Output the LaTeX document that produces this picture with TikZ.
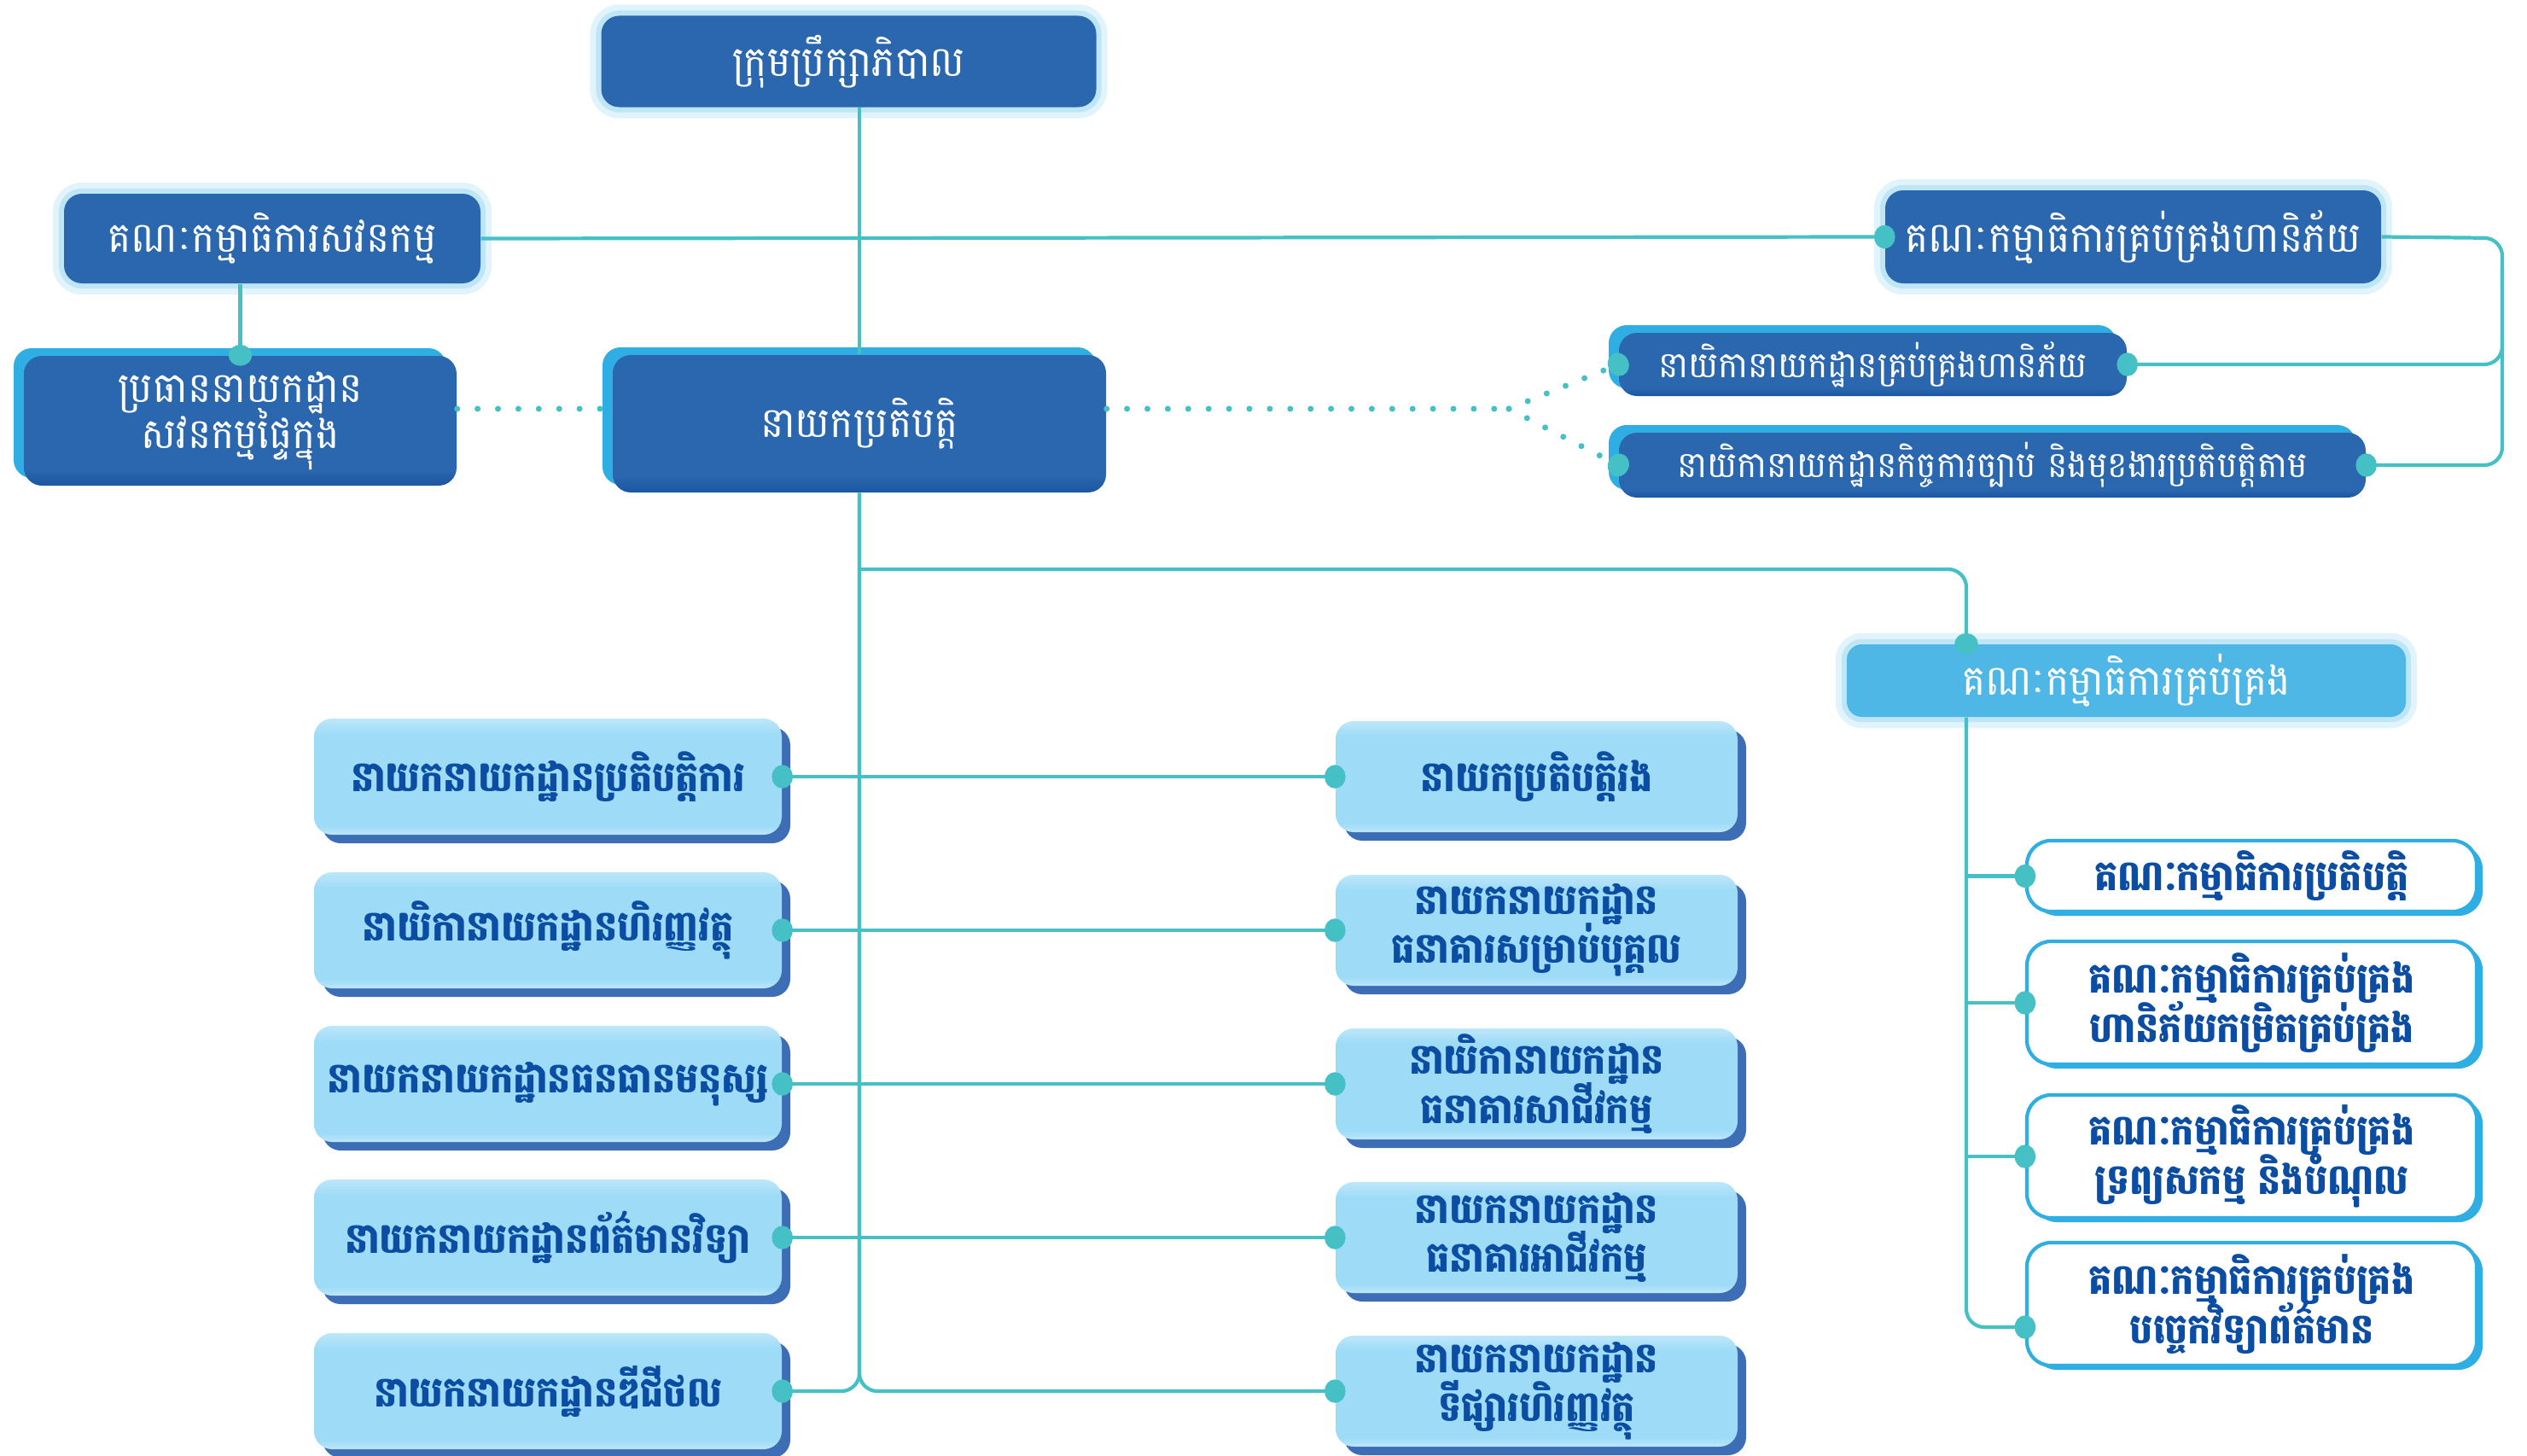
\documentclass[tikz,border=0pt]{standalone}
\usepackage{fontspec}
\newfontfamily\khmer[Script=Khmer, FakeStretch=0.93, BoldFeatures={FakeStretch=0.87}]{Battambang}
\usepackage{tikz}
\usetikzlibrary{positioning,shadows,arrows.meta}
\setlength{\lineskiplimit}{-10pt}

\definecolor{boxblue}{HTML}{2A67AE}
\definecolor{boxlow}{HTML}{1B55A3}
\definecolor{backblue}{HTML}{2FAEE3}
\definecolor{glowblue}{HTML}{BFE6F7}
\definecolor{linkteal}{HTML}{45C1C6}
\definecolor{deptfill}{HTML}{9DDBF7}
\definecolor{depttop}{HTML}{BDE7FA}
\definecolor{deptshade}{HTML}{3C6DB5}
\definecolor{depttext}{HTML}{0A4DA2}
\definecolor{mgmtfill}{HTML}{4EB7E5}

\pgfdeclareverticalshading{deptshading}{100bp}{color(0bp)=(depttop); color(25bp)=(depttop);
  color(29bp)=(deptfill); color(68bp)=(deptfill); color(75bp)=(depttop); color(100bp)=(depttop)}
\pgfdeclareverticalshading{chiefshading}{100bp}{color(0bp)=(boxlow); color(25bp)=(boxlow);
  color(31bp)=(boxblue); color(100bp)=(boxblue)}

\tikzset{node distance=1.8cm, auto,
  every node/.style={font=\khmer\fontsize{14}{15.5}\selectfont, align=center, inner sep=0pt},
  glow/.style={preaction={draw=glowblue!45, line width=7.5pt},
               preaction={draw=glowblue, line width=3.5pt}},
  head/.style={glow, rounded corners=6pt, fill=boxblue, text=white},
  chief/.style={rounded corners=6pt, shading=chiefshading, text=white,
                drop shadow={shadow xshift=-0.12cm, shadow yshift=0.09cm, fill=backblue, opacity=1}},
  small/.style={font=\khmer\fontsize{12}{14}\selectfont},
  mgmt/.style={glow, rounded corners=5pt, fill=mgmtfill, text=white},
  dept/.style={rounded corners=6pt, shading=deptshading, text=depttext,
               font=\khmer\bfseries\fontsize{14}{16.3}\selectfont,
               minimum width=5.48cm, minimum height=1.36cm,
               drop shadow={shadow xshift=0.1cm, shadow yshift=-0.1cm, fill=deptshade, opacity=1}},
  cmte/.style={rounded corners=8pt, fill=white, draw=backblue, line width=1.2pt, text=depttext,
               font=\khmer\bfseries\fontsize{14}{16.3}\selectfont, minimum width=5.27cm,
               drop shadow={shadow xshift=0.07cm, shadow yshift=-0.05cm, fill=backblue, opacity=1}},
  link/.style={draw=linkteal, line width=1.2pt},
  dotlink/.style={draw=linkteal, line width=2pt, line cap=round, dash pattern=on 0pt off 6.8pt},
  bead/.tip={Circle[length=7pt, width=7.8pt, fill=linkteal]},
  tipend/.style={-bead, shorten >=-3.5pt},
  tipstart/.style={bead-, shorten <=-3.5pt},
  tipboth/.style={bead-bead, shorten <=-3.5pt, shorten >=-3.5pt}
}

\begin{document}
\begin{tikzpicture}

             \useasboundingbox (0,0) rectangle (29.61,-17.06);

             \node (Board) [head, minimum width=5.8cm, minimum height=1.07cm] at (9.945,-0.72) {ក្រុមប្រឹក្សាភិបាល};
             \node (AuditC) [head, minimum width=4.88cm, minimum height=1.05cm] at (3.19,-2.795) {គណៈកម្មាធិការសវនកម្ម};
             \node (RiskC) [head, minimum width=5.81cm, minimum height=1.09cm] at (24.995,-2.775) {គណៈកម្មាធិការគ្រប់គ្រងហានិភ័យ};

             \node (IA) [chief, minimum width=5.07cm, minimum height=1.52cm] at (2.815,-4.93) {ប្រធាននាយកដ្ឋាន\\សវនកម្មផ្ទៃក្នុង};
             \node (CEO) [chief, minimum width=5.78cm, minimum height=1.61cm] at (10.07,-4.965) {នាយកប្រតិបត្តិ};
             \node (RiskD) [chief, small, minimum width=5.95cm, minimum height=0.74cm] at (21.945,-4.27) {នាយិកានាយកដ្ឋានគ្រប់គ្រងហានិភ័យ};
             \node (Comp) [chief, small, minimum width=8.75cm, minimum height=0.76cm] at (23.345,-5.45) {នាយិកានាយកដ្ឋានកិច្ចការច្បាប់ និងមុខងារប្រតិបត្តិតាម};

             \node (Mgmt) [mgmt, minimum width=6.55cm, minimum height=0.85cm] at (24.915,-7.975) {គណៈកម្មាធិការគ្រប់គ្រង};

             \node (L1) [dept] at (6.42,-9.1) {នាយកនាយកដ្ឋានប្រតិបត្តិការ};
             \node (L2) [dept, below of=L1] {នាយិកានាយកដ្ឋានហិរញ្ញវត្ថុ};
             \node (L3) [dept, below of=L2] {នាយកនាយកដ្ឋានធនធានមនុស្ស};
             \node (L4) [dept, below of=L3] {នាយកនាយកដ្ឋានព័ត៌មានវិទ្យា};
             \node (L5) [dept, below of=L4] {នាយកនាយកដ្ឋានឌីជីថល};

             \node (M1) [dept, minimum width=4.71cm, minimum height=1.3cm] at (18.005,-9.1) {នាយកប្រតិបត្តិរង};
             \node (M2) [dept, minimum width=4.71cm, minimum height=1.3cm, below of=M1] {នាយកនាយកដ្ឋាន\\ធនាគារសម្រាប់បុគ្គល};
             \node (M3) [dept, minimum width=4.71cm, minimum height=1.3cm, below of=M2] {នាយិកានាយកដ្ឋាន\\ធនាគារសាជីវកម្ម};
             \node (M4) [dept, minimum width=4.71cm, minimum height=1.3cm, below of=M3] {នាយកនាយកដ្ឋាន\\ធនាគារអាជីវកម្ម};
             \node (M5) [dept, minimum width=4.71cm, minimum height=1.3cm, below of=M4] {នាយកនាយកដ្ឋាន\\ទីផ្សារហិរញ្ញវត្ថុ};

             \node (R1) [cmte, minimum height=0.83cm] at (26.385,-10.265) {គណៈកម្មាធិការប្រតិបត្តិ};
             \node (R2) [cmte, minimum height=1.44cm] at (26.385,-11.75) {គណៈកម្មាធិការគ្រប់គ្រង\\ហានិភ័យកម្រិតគ្រប់គ្រង};
             \node (R3) [cmte, minimum height=1.44cm] at (26.385,-13.55) {គណៈកម្មាធិការគ្រប់គ្រង\\ទ្រព្យសកម្ម និងបំណុល};
             \node (R4) [cmte, minimum height=1.44cm] at (26.385,-15.28) {គណៈកម្មាធិការគ្រប់គ្រង\\បច្ចេកវិទ្យាព័ត៌មាន};

             \coordinate (rk) at (29.32,-2.79);
             \coordinate (sp) at (17.68,-4.79);
             \coordinate (mg) at (23.04,-6.67);

             \draw [link] (Board.south -| CEO.north) -- (CEO.north);
             \draw [link, tipend] (AuditC.east) -- (RiskC.west);
             \draw [link, tipend] (IA.north |- AuditC.south) -- (IA.north);

             \draw [link, rounded corners=6pt, tipend] (RiskC.east) -- (rk) |- (Comp.east);
             \draw [link, rounded corners=6pt, tipend] ([yshift=-10pt]rk) |- (RiskD.east);

             \draw [dotlink] (IA.east |- sp) -- (CEO.west |- sp);
             \draw [dotlink] (CEO.east |- sp) -- (sp);
             \draw [dotlink, tipend] (sp) -- (RiskD.west);
             \draw [dotlink, tipend] (sp) -- (Comp.west);

             \draw [link, rounded corners=6pt, tipend] (CEO.south |- mg) -| (Mgmt.north -| mg);
             \draw [link, rounded corners=6pt, tipend] (Mgmt.south -| mg) |- (R4.west |- 0,-15.55);
             \draw [link, tipend] (R1.west -| mg) -- (R1.west);
             \draw [link, tipend] (R2.west -| mg) -- (R2.west);
             \draw [link, tipend] (R3.west -| mg) -- (R3.west);

             \draw [link, rounded corners=6pt, tipstart] (L5.east) -| (CEO.south);
             \draw [link, rounded corners=6pt, tipstart] (M5.west) -| (CEO.south);
             \draw [link, tipboth] (L1.east) -- (M1.west);
             \draw [link, tipboth] (L2.east) -- (M2.west);
             \draw [link, tipboth] (L3.east) -- (M3.west);
             \draw [link, tipboth] (L4.east) -- (M4.west);

          \end{tikzpicture}
\end{document}
